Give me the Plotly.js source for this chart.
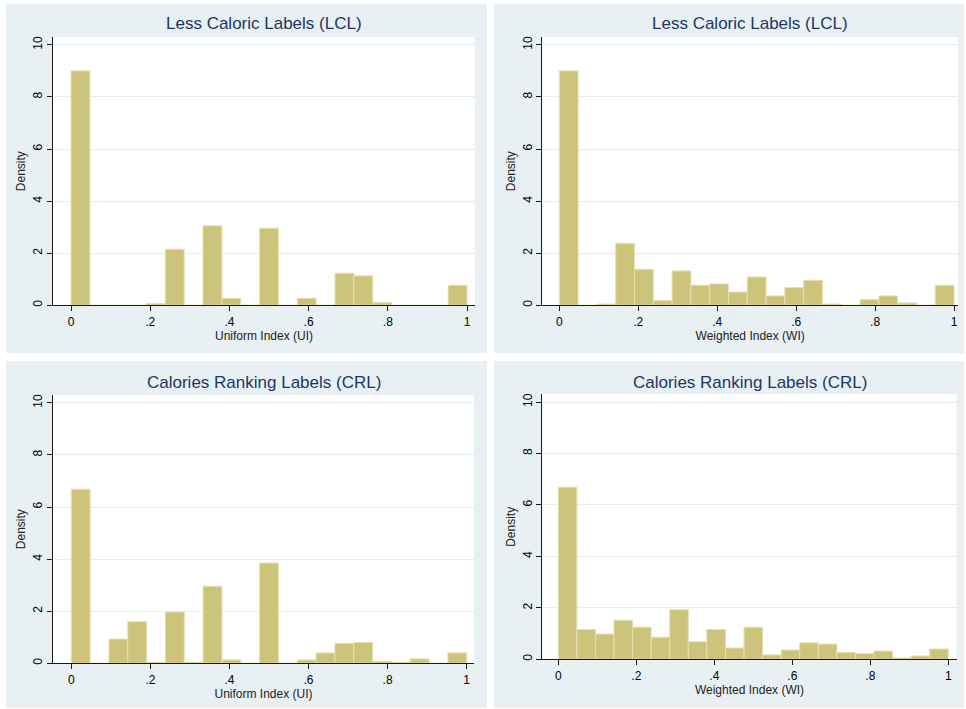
<!DOCTYPE html>
<html><head><meta charset="utf-8">
<script src="https://cdn.plot.ly/plotly-3.0.1.min.js"></script>
<style>html,body{margin:0;padding:0;background:#fff}#chart{width:966px;height:709px}</style>
</head><body><div id="chart"></div>
<script>
// ---- data (density per bin, 21 equal bins on [0,1]) ----
const nBins = 21;
const panelTitles = ["Less Caloric Labels (LCL)", "Less Caloric Labels (LCL)", "Calories Ranking Labels (CRL)", "Calories Ranking Labels (CRL)"];
const xTitles = ["Uniform Index (UI)", "Weighted Index (WI)", "Uniform Index (UI)", "Weighted Index (WI)"];
const yTitle = "Density";
const xTickVals = [0, 0.2, 0.4, 0.6, 0.8, 1];
const xTickText = ["0", ".2", ".4", ".6", ".8", "1"];
const yTickVals = [0, 2, 4, 6, 8, 10];
const yTickText = ["0", "2", "4", "6", "8", "10"];
const lclUniform  = [9.0, 0, 0, 0, 0.07, 2.15, 0, 3.05, 0.27, 0, 2.96, 0, 0.27, 0, 1.23, 1.13, 0.1, 0, 0, 0, 0.77];
const lclWeighted = [9.0, 0, 0.05, 2.38, 1.38, 0.18, 1.32, 0.77, 0.82, 0.51, 1.09, 0.36, 0.68, 0.96, 0.05, 0, 0.22, 0.36, 0.09, 0, 0.77];
const crlUniform  = [6.68, 0, 0.93, 1.6, 0.04, 1.97, 0.04, 2.96, 0.13, 0, 3.85, 0, 0.13, 0.4, 0.76, 0.8, 0.08, 0.04, 0.17, 0, 0.4];
const crlWeighted = [6.69, 1.16, 0.98, 1.52, 1.25, 0.86, 1.93, 0.68, 1.16, 0.44, 1.25, 0.17, 0.36, 0.64, 0.59, 0.27, 0.22, 0.32, 0.05, 0.13, 0.4];
const series = [lclUniform, lclWeighted, crlUniform, crlWeighted];

// ---- layout geometry (pixels) ----
const W = 966, H = 709;
const px = v => v / W, py = v => 1 - v / H;
const panels = [
  {bg:[6,4,487,353],   plot:[53,37,475,305.3],    xr:[-0.0455,1.0202], titleY:24},
  {bg:[494,4,964,353], plot:[542.3,37,958,305.3], xr:[-0.043,1.010],   titleY:24},
  {bg:[6,361,487,708], plot:[53,395,474,663.3],   xr:[-0.0463,1.0185], titleY:382},
  {bg:[494,361,964,708],plot:[542.3,394.3,956.7,659.3], xr:[-0.041,1.0215], titleY:382}
];
const FONT = "Liberation Sans, Arial, sans-serif";
const barColor = "#cdc47c", barLine = "#e6dfb0";
const panelBg = "#e8f0f3", gridColor = "#e4edf0", axisColor = "#1a1a1a";

const binCenters = Array.from({length: nBins}, (_, k) => (k + 0.5) / nBins);

const traces = series.map((vals, i) => ({
  type: 'bar', x: binCenters, y: vals, width: 1 / nBins,
  xaxis: i === 0 ? 'x' : 'x' + (i + 1), yaxis: i === 0 ? 'y' : 'y' + (i + 1),
  marker: {color: barColor, line: {color: barLine, width: 1}},
  showlegend: false, hoverinfo: 'x+y'
}));

const layout = {
  width: W, height: H, margin: {l:0, r:0, t:0, b:0},
  paper_bgcolor: '#ffffff', plot_bgcolor: 'rgba(0,0,0,0)',
  font: {family: FONT, color: '#000'},
  bargap: 0, showlegend: false,
  shapes: [], annotations: []
};

panels.forEach((p, i) => {
  const sfx = i === 0 ? '' : String(i + 1);
  layout['xaxis' + sfx] = {
    domain: [px(p.plot[0]), px(p.plot[2])], range: p.xr, anchor: 'y' + sfx,
    tickvals: xTickVals, ticktext: xTickText, ticks: 'outside', ticklen: 5, tickcolor: axisColor,
    showline: true, linecolor: axisColor, linewidth: 1, showgrid: false, zeroline: false,
    tickfont: {size: 12, color: '#000', family: FONT},
    title: {text: xTitles[i], font: {size: 12, color: '#222', family: FONT}, standoff: 0},
    fixedrange: true
  };
  layout['yaxis' + sfx] = {
    domain: [py(p.plot[3]), py(p.plot[1])], range: [0, 10.3], anchor: 'x' + sfx,
    tickvals: yTickVals, ticktext: yTickText, tickangle: -90, ticks: 'outside', ticklen: 5, tickcolor: axisColor,
    showline: true, linecolor: axisColor, linewidth: 1, showgrid: true, gridcolor: gridColor, gridwidth: 1,
    zeroline: false, tickfont: {size: 12, color: '#000', family: FONT},
    title: {text: yTitle, font: {size: 12, color: '#222', family: FONT}, standoff: 2},
    fixedrange: true
  };
  layout.shapes.push({type:'rect', xref:'paper', yref:'paper', layer:'below',
    x0: px(p.bg[0]), x1: px(p.bg[2]), y0: py(p.bg[3]), y1: py(p.bg[1]),
    fillcolor: panelBg, line: {width: 0}});
  layout.annotations.push({xref:'paper', yref:'paper', showarrow:false,
    x: px((p.plot[0] + p.plot[2]) / 2), y: py(p.titleY), xanchor:'center', yanchor:'middle',
    text: panelTitles[i], font: {size: 17, color: '#1c3764', family: FONT}});
});
panels.forEach(p => {
  layout.shapes.push({type:'rect', xref:'paper', yref:'paper', layer:'below',
    x0: px(p.plot[0]), x1: px(p.plot[2]), y0: py(p.plot[3]), y1: py(p.plot[1]),
    fillcolor: '#ffffff', line: {width: 0}});
});

Plotly.newPlot('chart', traces, layout, {displayModeBar: false, staticPlot: true});
</script>
</body></html>
